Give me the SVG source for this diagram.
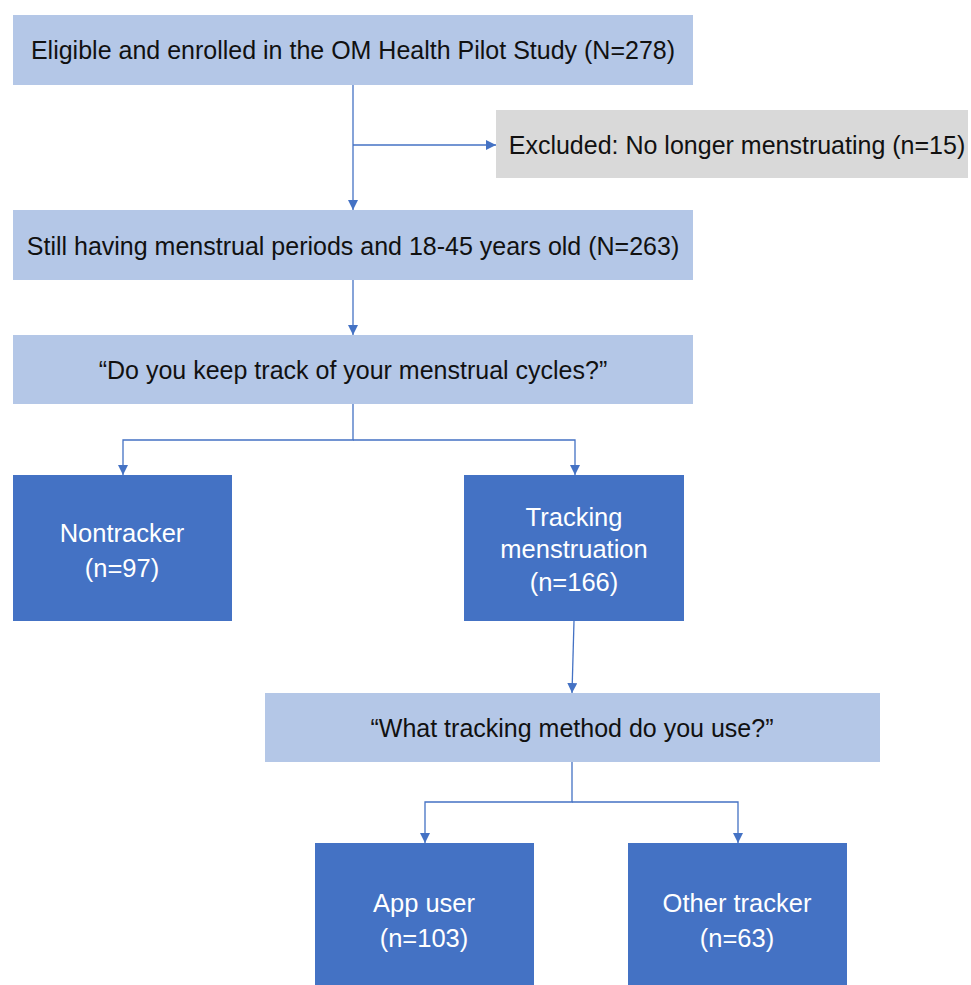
<svg xmlns="http://www.w3.org/2000/svg" width="971" height="985" viewBox="0 0 971 985">
<style>
.light{fill:#b4c7e7}
.gray{fill:#d9d9d9}
.dark{fill:#4472c4}
.t{font-family:"Liberation Sans","Open Sans",Arial,sans-serif;font-size:25px;fill:#111;text-anchor:middle;dominant-baseline:central}
.w{fill:#fff;font-size:25.5px}
.c{fill:none;stroke:#4472c4;stroke-width:1.3}
</style>
<defs>
<marker id="ah" viewBox="0 0 10 10" refX="10" refY="5" markerWidth="10" markerHeight="10" markerUnits="userSpaceOnUse" orient="auto">
<path d="M0,0 L10,5 L0,10 z" fill="#4472c4"/>
</marker>
</defs>
<rect width="971" height="985" fill="#fff"/>
<g id="connectors">
<path class="c" d="M353,85 V210" marker-end="url(#ah)"/>
<path class="c" d="M353,145 H496" marker-end="url(#ah)"/>
<path class="c" d="M353,280 V335" marker-end="url(#ah)"/>
<path class="c" d="M353,404 V440 H123 V475" marker-end="url(#ah)"/>
<path class="c" d="M353,440 H575 V475" marker-end="url(#ah)"/>
<path class="c" d="M574,621 L572,693" marker-end="url(#ah)"/>
<path class="c" d="M572,762 V802 H425 V843" marker-end="url(#ah)"/>
<path class="c" d="M572,802 H738 V843" marker-end="url(#ah)"/>
</g>
<g id="enrolled">
<rect class="light" x="13" y="15" width="680" height="70"/>
<text class="t" x="353" y="50">Eligible and enrolled in the OM Health Pilot Study (N=278)</text>
</g>
<g id="excluded">
<rect class="gray" x="496" y="110" width="472" height="68"/>
<text class="t" x="737" y="145">Excluded: No longer menstruating (n=15)</text>
</g>
<g id="still">
<rect class="light" x="13" y="210" width="680" height="70"/>
<text class="t" x="353" y="246">Still having menstrual periods and 18-45 years old (N=263)</text>
</g>
<g id="question1">
<rect class="light" x="13" y="335" width="680" height="69"/>
<text class="t" x="353" y="370">“Do you keep track of your menstrual cycles?”</text>
</g>
<g id="nontracker">
<rect class="dark" x="13" y="475" width="219" height="146"/>
<text class="t w" x="122" y="533">Nontracker</text>
<text class="t w" x="122" y="568">(n=97)</text>
</g>
<g id="tracking">
<rect class="dark" x="464" y="475" width="220" height="146"/>
<text class="t w" x="574" y="517">Tracking</text>
<text class="t w" x="574" y="549">menstruation</text>
<text class="t w" x="574" y="582">(n=166)</text>
</g>
<g id="question2">
<rect class="light" x="265" y="693" width="615" height="69"/>
<text class="t" x="572" y="728">“What tracking method do you use?”</text>
</g>
<g id="appuser">
<rect class="dark" x="315" y="843" width="219" height="142"/>
<text class="t w" x="424" y="903">App user</text>
<text class="t w" x="424" y="938">(n=103)</text>
</g>
<g id="othertracker">
<rect class="dark" x="628" y="843" width="219" height="142"/>
<text class="t w" x="737" y="903">Other tracker</text>
<text class="t w" x="737" y="938">(n=63)</text>
</g>
</svg>
